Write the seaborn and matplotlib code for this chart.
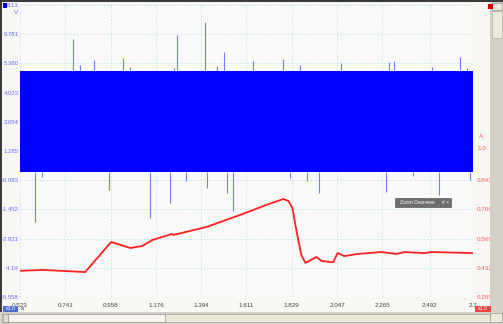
import matplotlib
matplotlib.use("Agg")
import matplotlib.pyplot as plt
from matplotlib.patches import Rectangle
import seaborn as sns
import numpy as np

# ---------------- data ----------------
x_ticks = [0.523, 0.741, 0.958, 1.176, 1.394, 1.611, 1.829, 2.047, 2.265, 2.492, 2.7]
x_tick_labels = ["0.523", "0.741", "0.958", "1.176", "1.394", "1.611", "1.829",
                 "2.047", "2.265", "2.492", "2.7"]
v_tick_labels = ["-5.558", "-4.19", "-2.821", "-1.452", "-0.083", "1.285",
                 "2.654", "4.023", "5.380", "6.781", "8.13"]
a_ticks = [0.295, 0.432, 0.569, 0.706, 0.843, 0.980]
a_tick_labels = ["0.295", "0.432", "0.569", "0.706", "0.843", "1.0"]

# voltage channel (blue): dense switching band plus glitches
band_t = [0.523, 2.7]
band_hi = [5.04, 5.04]
band_lo = [0.30, 0.30]
up_spike_t = [0.778, 0.812, 0.879, 1.019, 1.053, 1.265, 1.279, 1.414, 1.472, 1.501,
              1.645, 1.785, 1.871, 2.064, 2.295, 2.319, 2.502, 2.637, 2.671]
up_spike_v = [6.54, 5.32, 5.55, 5.65, 5.22, 5.18, 6.72, 7.33, 5.27, 5.93,
              5.50, 5.60, 5.30, 5.40, 5.46, 5.50, 5.22, 5.69, 5.18]
dn_spike_t = [0.595, 0.629, 0.952, 1.149, 1.245, 1.322, 1.424, 1.520, 1.549,
              1.819, 1.900, 1.958, 2.281, 2.411, 2.536, 2.685]
dn_spike_v = [-2.04, 0.07, -0.54, -1.86, -1.15, -0.10, -0.43, -0.67, -1.53,
              0.00, -0.10, -0.68, -0.63, 0.12, -0.79, -0.05]

# current channel (red)
cur_t = [0.523, 0.634, 0.836, 0.961, 1.053, 1.110, 1.158, 1.254, 1.259, 1.418,
         1.581, 1.707, 1.789, 1.813, 1.832, 1.851, 1.875, 1.895, 1.948, 1.972,
         2.015, 2.029, 2.049, 2.082, 2.145, 2.260, 2.332, 2.371, 2.467, 2.501, 2.7]
cur_a = [0.418, 0.422, 0.412, 0.553, 0.525, 0.534, 0.562, 0.591, 0.586, 0.623,
         0.680, 0.727, 0.755, 0.745, 0.713, 0.609, 0.492, 0.455, 0.483, 0.464,
         0.459, 0.459, 0.501, 0.487, 0.497, 0.506, 0.497, 0.506, 0.501, 0.506, 0.501]

# ---------------- figure ----------------
W, H = 503, 324
sns.set_style("white")
plt.rcParams["font.family"] = ["Liberation Sans", "DejaVu Sans"]
fig = plt.figure(figsize=(W / 100, H / 100), dpi=100, facecolor="#f7f7f4")

def fx(px):
    return px / W

def fy(py):
    return 1 - py / H

L, R, T, B = 20, 473, 5, 297
ax = fig.add_axes([fx(L), fy(B), (R - L) / W, (B - T) / H])
ax.set_facecolor("#f9f9f7")
ymin, ymax = -5.558, 8.13
ax.set_xlim(x_ticks[0], x_ticks[-1])
ax.set_ylim(ymin, ymax)

# blue band + glitches
ax.fill_between(band_t, band_lo, band_hi, color="#0000ff", lw=0, zorder=3)
ax.vlines(up_spike_t, band_hi[0], up_spike_v, color="#7a7aff", lw=0.8, zorder=2)
ax.vlines(dn_spike_t, band_lo[0], dn_spike_v, color="#7a7aff", lw=0.8, zorder=2)

# grid and ticks
step = (ymax - ymin) / 10
v_ticks = [ymin + i * step for i in range(11)]
ax.set_yticks(v_ticks)
ax.set_yticklabels(v_tick_labels)
ax.set_xticks(x_ticks)
ax.set_xticklabels(x_tick_labels)
ax.grid(True, color="#bfe3f2", ls=(0, (2, 2)), lw=0.6)
ax.set_axisbelow(True)
ax.tick_params(axis="y", length=0, pad=1, labelsize=4.3, labelcolor="#6a6aff")
ax.tick_params(axis="x", length=0, pad=4, labelsize=4.5, labelcolor="#444444")
for s in ax.spines.values():
    s.set_visible(False)

# red axis
ax2 = ax.twinx()
amin = 0.295
astep = 0.137
ax2.set_ylim(amin, amin + 10 * astep)
sns.lineplot(x=cur_t, y=cur_a, ax=ax2, color="#ff2020", lw=1.3, zorder=4)
ax2.set_yticks(a_ticks)
ax2.set_yticklabels(a_tick_labels)
ax2.tick_params(axis="y", length=0, pad=3, labelsize=4.5, labelcolor="#ff5a5a")
ax2.get_yticklabels()[-1].set_va("bottom")
ax2.set_xlim(x_ticks[0], x_ticks[-1])
ax2.grid(False)
for s in ax2.spines.values():
    s.set_visible(False)

# ---------------- window chrome ----------------
def rect(x0, y0, x1, y1, fc, ec="none", lw=0, z=1):
    fig.patches.append(Rectangle((fx(x0), fy(y1)), (x1 - x0) / W, (y1 - y0) / H,
                                 transform=fig.transFigure, fc=fc, ec=ec, lw=lw,
                                 zorder=z, figure=fig))

rect(0, 0, 503, 1.5, "#3a3a3a", z=5)
rect(0, 0, 1.5, 324, "#3a3a3a", z=5)
rect(490, 2, 503, 312, "#d4d0c8", z=5)
rect(492, 3, 502, 10, "#ece9d8", ec="#888888", lw=0.4, z=6)
rect(492, 11, 502, 38, "#ece9d8", ec="#aaaaaa", lw=0.4, z=6)
rect(0, 312, 503, 324, "#d4d0c8", z=5)
rect(2, 314, 490, 322, "#ece9d8", ec="#999999", lw=0.4, z=6)
rect(8, 314, 165, 322, "#f5f4ee", ec="#888888", lw=0.4, z=7)
rect(3, 314, 8, 322, "#e0ddd0", ec="#888888", lw=0.4, z=7)
rect(490, 313, 502, 322, "#ece9d8", ec="#888888", lw=0.4, z=6)

# legend-like markers
rect(3, 3, 7, 8, "#0000cc", z=6)
fig.text(fx(16), fy(12), "V", fontsize=4.5, color="#6a6aff", ha="center", va="center")
fig.text(fx(479), fy(136), "A", fontsize=4.5, color="#ff5a5a", ha="left", va="center")
rect(488, 4, 493, 9, "#dd0000", z=6)

rect(3, 306, 18, 312, "#4f6fd0", z=6)
fig.text(fx(10.5), fy(309), "x1.0", fontsize=3.8, color="white", ha="center", va="center", zorder=7)
fig.text(fx(21), fy(309), "s", fontsize=4.5, color="#333333", ha="left", va="center")
rect(475, 306, 491, 312, "#ee4444", z=6)
fig.text(fx(483), fy(309), "x1.0", fontsize=3.8, color="white", ha="center", va="center", zorder=7)

# zoom overview floating tag
rect(395, 198, 451, 207, "#6e6e6e", ec="#444444", lw=0.4, z=6)
fig.text(fx(417), fy(202.5), "Zoom Overview", fontsize=3.5, color="white",
         ha="center", va="center", zorder=7)
fig.text(fx(445), fy(202.5), "# \u00d7", fontsize=3.5, color="white",
         ha="center", va="center", zorder=7)

fig.savefig("out.png", dpi=100, facecolor=fig.get_facecolor())
